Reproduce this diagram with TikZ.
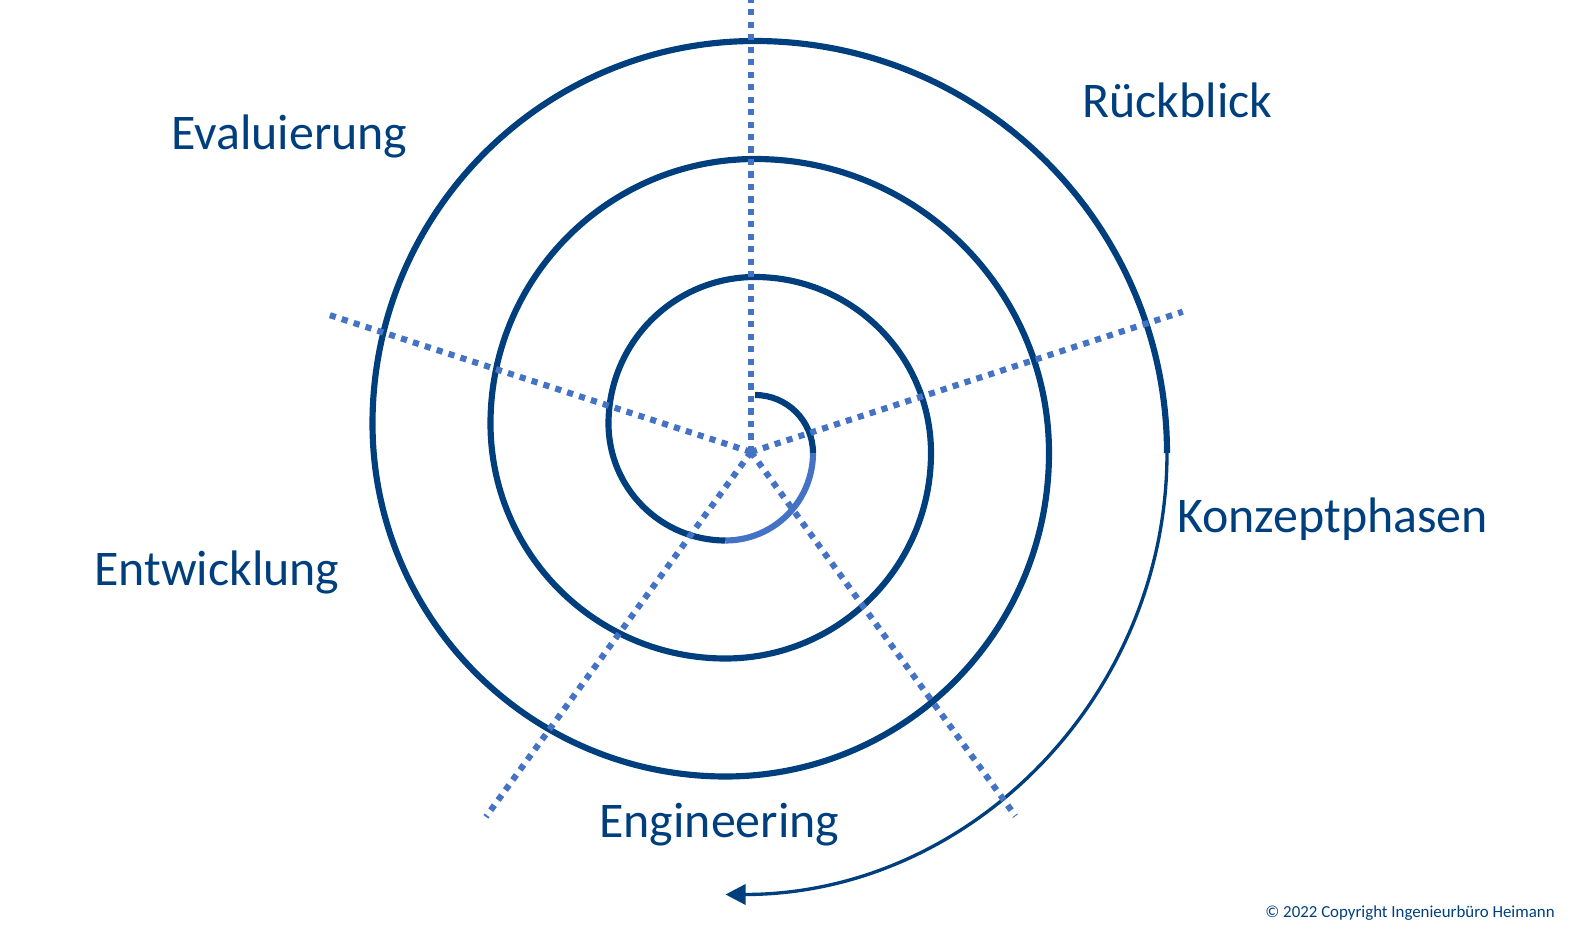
\documentclass[tikz,border=0pt]{standalone}
\usepackage{fontspec}
\setmainfont{Carlito}
\usetikzlibrary{arrows.meta}
\definecolor{spiralblue}{RGB}{0,63,125}
\definecolor{lightblue}{RGB}{68,114,196}
\tikzset{
  spiralline/.style={draw=spiralblue, line width=3.5pt},
  lightline/.style={draw=lightblue, line width=3.5pt},
  arrowline/.style={draw=spiralblue, line width=1.9pt, -{Triangle[length=11.5pt,width=11.5pt]}},
  dotline/.style={draw=lightblue, line width=3.5pt, dash pattern=on 3.5pt off 3.6pt},
  phase/.style={text=spiralblue, anchor=base west, inner sep=0pt, font=\fontsize{28.4}{34}\selectfont},
  copyr/.style={text=spiralblue, anchor=base west, inner sep=0pt, font=\fontsize{9.6}{11}\selectfont}
}
\begin{document}
\begin{tikzpicture}[x=0.02cm, y=0.02cm]
\useasboundingbox (0,0) rectangle (1570,-932);
% spiral start points
\coordinate (q1) at (755,-395);
\coordinate (q2) at (813,-453);
\coordinate (q3) at (725.5,-540.5);
\coordinate (q14) at (1167,-453);
% innermost quarter
\draw[spiralline] (q1) arc[start angle=90, end angle=0, radius=58];
% light quarter
\draw[lightline] (q2) arc[start angle=0, end angle=-90, radius=87.5];
% main spiral
\draw[spiralline] (q3)
  arc[start angle=-90, end angle=-180, radius=117]
  arc[start angle=180, end angle=90, radius=146.5]
  arc[start angle=90, end angle=0, radius=176]
  arc[start angle=0, end angle=-90, radius=205.5]
  arc[start angle=-90, end angle=-180, radius=235]
  arc[start angle=180, end angle=90, radius=264.5]
  arc[start angle=90, end angle=0, radius=294]
  arc[start angle=0, end angle=-90, radius=323.5]
  arc[start angle=-90, end angle=-180, radius=353]
  arc[start angle=180, end angle=90, radius=382.5]
  arc[start angle=90, end angle=0, radius=412];
% outer arrow
\draw[arrowline] (q14) arc[start angle=0, end angle=-90, radius=441.5];
% dotted rays
\coordinate (O) at (751,-452);
\draw[dotline] (O) -- ++(90:452);
\draw[dotline] (O) -- ++(18:454);
\draw[dotline] (O) -- ++(162:443);
\draw[dotline] (O) -- ++(234:451);
\draw[dotline] (O) -- ++(306:450);
% labels
\node[phase] (eval) at (171,-150) {Evaluierung};
\node[phase] (rueck) at (1082,-118) {Rückblick};
\node[phase] (konz) at (1177,-533) {Konzeptphasen};
\node[phase] (entw) at (94,-586) {Entwicklung};
\node[phase] (eng) at (599,-837) {Engineering};
\node[copyr] (copy) at (1265,-917) {© 2022 Copyright Ingenieurbüro Heimann};
\end{tikzpicture}
\end{document}
